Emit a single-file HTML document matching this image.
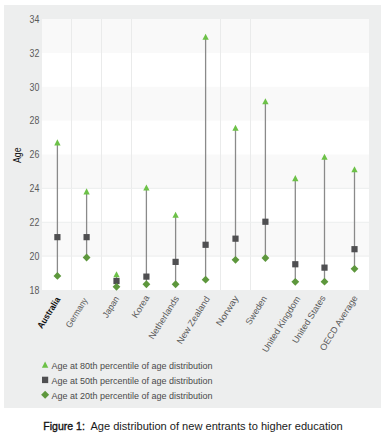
<!DOCTYPE html><html><head><meta charset="utf-8"><style>
html,body{margin:0;padding:0;background:#fff;width:385px;height:439px;overflow:hidden}
svg{display:block}
text{font-family:"Liberation Sans",sans-serif}
</style></head><body>
<svg width="385" height="439" viewBox="0 0 385 439">
<rect x="0" y="0" width="385" height="439" fill="#fff"/>
<rect x="4" y="5" width="377" height="403" fill="#edeeee"/>
<rect x="42" y="19" width="327" height="271" fill="#fff"/>
<rect x="42" y="19.00" width="327" height="33.88" fill="#f9f9f9"/>
<rect x="42" y="86.75" width="327" height="33.88" fill="#f9f9f9"/>
<rect x="42" y="154.50" width="327" height="33.88" fill="#f9f9f9"/>
<rect x="42" y="222.25" width="327" height="33.88" fill="#f9f9f9"/>
<line x1="71.50" y1="19" x2="71.50" y2="290" stroke="#eaebeb" stroke-width="1"/>
<line x1="101.50" y1="19" x2="101.50" y2="290" stroke="#eaebeb" stroke-width="1"/>
<line x1="131.50" y1="19" x2="131.50" y2="290" stroke="#eaebeb" stroke-width="1"/>
<line x1="220.50" y1="19" x2="220.50" y2="290" stroke="#eaebeb" stroke-width="1"/>
<line x1="250.50" y1="19" x2="250.50" y2="290" stroke="#eaebeb" stroke-width="1"/>
<line x1="42" y1="256.12" x2="369" y2="256.12" stroke="#eceeee" stroke-width="1"/>
<line x1="42" y1="222.25" x2="369" y2="222.25" stroke="#eceeee" stroke-width="1"/>
<line x1="42" y1="188.38" x2="369" y2="188.38" stroke="#eceeee" stroke-width="1"/>
<text x="39.4" y="293.75" font-size="10" fill="#5a5a5a" text-anchor="end" textLength="9.8" lengthAdjust="spacingAndGlyphs">18</text>
<text x="39.4" y="259.88" font-size="10" fill="#5a5a5a" text-anchor="end" textLength="9.8" lengthAdjust="spacingAndGlyphs">20</text>
<text x="39.4" y="226.00" font-size="10" fill="#5a5a5a" text-anchor="end" textLength="9.8" lengthAdjust="spacingAndGlyphs">22</text>
<text x="39.4" y="192.12" font-size="10" fill="#5a5a5a" text-anchor="end" textLength="9.8" lengthAdjust="spacingAndGlyphs">24</text>
<text x="39.4" y="158.25" font-size="10" fill="#5a5a5a" text-anchor="end" textLength="9.8" lengthAdjust="spacingAndGlyphs">26</text>
<text x="39.4" y="124.38" font-size="10" fill="#5a5a5a" text-anchor="end" textLength="9.8" lengthAdjust="spacingAndGlyphs">28</text>
<text x="39.4" y="90.50" font-size="10" fill="#5a5a5a" text-anchor="end" textLength="9.8" lengthAdjust="spacingAndGlyphs">30</text>
<text x="39.4" y="56.62" font-size="10" fill="#5a5a5a" text-anchor="end" textLength="9.8" lengthAdjust="spacingAndGlyphs">32</text>
<text x="39.4" y="22.75" font-size="10" fill="#5a5a5a" text-anchor="end" textLength="9.8" lengthAdjust="spacingAndGlyphs">34</text>
<text transform="translate(21.2,163) rotate(-90)" font-size="10.2" fill="#111" textLength="15.6" lengthAdjust="spacingAndGlyphs">Age</text>
<line x1="57.40" y1="142.47" x2="57.40" y2="275.94" stroke="#8a8a8a" stroke-width="1.3"/>
<line x1="86.60" y1="191.42" x2="86.60" y2="257.48" stroke="#8a8a8a" stroke-width="1.3"/>
<line x1="116.50" y1="274.25" x2="116.50" y2="286.78" stroke="#8a8a8a" stroke-width="1.3"/>
<line x1="146.40" y1="187.53" x2="146.40" y2="284.24" stroke="#8a8a8a" stroke-width="1.3"/>
<line x1="175.60" y1="214.80" x2="175.60" y2="284.24" stroke="#8a8a8a" stroke-width="1.3"/>
<line x1="205.60" y1="36.78" x2="205.60" y2="279.67" stroke="#8a8a8a" stroke-width="1.3"/>
<line x1="235.50" y1="127.74" x2="235.50" y2="259.85" stroke="#8a8a8a" stroke-width="1.3"/>
<line x1="265.40" y1="101.32" x2="265.40" y2="257.99" stroke="#8a8a8a" stroke-width="1.3"/>
<line x1="295.30" y1="178.21" x2="295.30" y2="281.87" stroke="#8a8a8a" stroke-width="1.3"/>
<line x1="324.50" y1="156.87" x2="324.50" y2="281.70" stroke="#8a8a8a" stroke-width="1.3"/>
<line x1="354.50" y1="169.24" x2="354.50" y2="268.83" stroke="#8a8a8a" stroke-width="1.3"/>
<path d="M57.40 139.37 L60.55 145.47 L54.25 145.47Z" fill="#6cc147"/>
<rect x="54.30" y="234.05" width="6.2" height="6.2" fill="#4f4f51"/>
<path d="M57.40 272.04 L61.30 275.94 L57.40 279.84 L53.50 275.94Z" fill="#5d973c"/>
<path d="M86.60 188.32 L89.75 194.42 L83.45 194.42Z" fill="#6cc147"/>
<rect x="83.50" y="234.05" width="6.2" height="6.2" fill="#4f4f51"/>
<path d="M86.60 253.58 L90.50 257.48 L86.60 261.38 L82.70 257.48Z" fill="#5d973c"/>
<path d="M116.50 271.15 L119.65 277.25 L113.35 277.25Z" fill="#6cc147"/>
<rect x="113.40" y="277.92" width="6.2" height="6.2" fill="#4f4f51"/>
<path d="M116.50 282.88 L120.40 286.78 L116.50 290.68 L112.60 286.78Z" fill="#5d973c"/>
<path d="M146.40 184.43 L149.55 190.53 L143.25 190.53Z" fill="#6cc147"/>
<rect x="143.30" y="273.52" width="6.2" height="6.2" fill="#4f4f51"/>
<path d="M146.40 280.34 L150.30 284.24 L146.40 288.14 L142.50 284.24Z" fill="#5d973c"/>
<path d="M175.60 211.70 L178.75 217.80 L172.45 217.80Z" fill="#6cc147"/>
<rect x="172.50" y="258.78" width="6.2" height="6.2" fill="#4f4f51"/>
<path d="M175.60 280.34 L179.50 284.24 L175.60 288.14 L171.70 284.24Z" fill="#5d973c"/>
<path d="M205.60 33.68 L208.75 39.78 L202.45 39.78Z" fill="#6cc147"/>
<rect x="202.50" y="241.68" width="6.2" height="6.2" fill="#4f4f51"/>
<path d="M205.60 275.77 L209.50 279.67 L205.60 283.57 L201.70 279.67Z" fill="#5d973c"/>
<path d="M235.50 124.64 L238.65 130.74 L232.35 130.74Z" fill="#6cc147"/>
<rect x="232.40" y="235.58" width="6.2" height="6.2" fill="#4f4f51"/>
<path d="M235.50 255.95 L239.40 259.85 L235.50 263.75 L231.60 259.85Z" fill="#5d973c"/>
<path d="M265.40 98.22 L268.55 104.32 L262.25 104.32Z" fill="#6cc147"/>
<rect x="262.30" y="218.64" width="6.2" height="6.2" fill="#4f4f51"/>
<path d="M265.40 254.09 L269.30 257.99 L265.40 261.89 L261.50 257.99Z" fill="#5d973c"/>
<path d="M295.30 175.11 L298.45 181.21 L292.15 181.21Z" fill="#6cc147"/>
<rect x="292.20" y="261.15" width="6.2" height="6.2" fill="#4f4f51"/>
<path d="M295.30 277.97 L299.20 281.87 L295.30 285.77 L291.40 281.87Z" fill="#5d973c"/>
<path d="M324.50 153.77 L327.65 159.87 L321.35 159.87Z" fill="#6cc147"/>
<rect x="321.40" y="264.54" width="6.2" height="6.2" fill="#4f4f51"/>
<path d="M324.50 277.80 L328.40 281.70 L324.50 285.60 L320.60 281.70Z" fill="#5d973c"/>
<path d="M354.50 166.14 L357.65 172.24 L351.35 172.24Z" fill="#6cc147"/>
<rect x="351.40" y="246.08" width="6.2" height="6.2" fill="#4f4f51"/>
<path d="M354.50 264.93 L358.40 268.83 L354.50 272.73 L350.60 268.83Z" fill="#5d973c"/>
<text class="xl" transform="translate(60.66,299.40) rotate(-58.0)" font-size="9.0" font-weight="bold" fill="#111" text-anchor="end" textLength="35.12" lengthAdjust="spacingAndGlyphs">Australia</text>
<text class="xl" transform="translate(87.99,300.20) rotate(-58.0)" font-size="9.0" font-weight="normal" fill="#5a5a5a" text-anchor="end" textLength="33.24" lengthAdjust="spacingAndGlyphs">Germany</text>
<text class="xl" transform="translate(119.64,298.60) rotate(-58.0)" font-size="9.0" font-weight="normal" fill="#5a5a5a" text-anchor="end" textLength="23.40" lengthAdjust="spacingAndGlyphs">Japan</text>
<text class="xl" transform="translate(149.85,297.64) rotate(-58.0)" font-size="9.0" font-weight="normal" fill="#5a5a5a" text-anchor="end" textLength="24.97" lengthAdjust="spacingAndGlyphs">Korea</text>
<text class="xl" transform="translate(179.41,298.28) rotate(-58.0)" font-size="9.0" font-weight="normal" fill="#5a5a5a" text-anchor="end" textLength="49.29" lengthAdjust="spacingAndGlyphs">Netherlands</text>
<text class="xl" transform="translate(210.10,298.76) rotate(-58.0)" font-size="9.0" font-weight="normal" fill="#5a5a5a" text-anchor="end" textLength="54.16" lengthAdjust="spacingAndGlyphs">New Zealand</text>
<text class="xl" transform="translate(238.87,297.96) rotate(-58.0)" font-size="9.0" font-weight="normal" fill="#5a5a5a" text-anchor="end" textLength="34.10" lengthAdjust="spacingAndGlyphs">Norway</text>
<text class="xl" transform="translate(267.31,298.28) rotate(-58.0)" font-size="9.0" font-weight="normal" fill="#5a5a5a" text-anchor="end" textLength="31.97" lengthAdjust="spacingAndGlyphs">Sweden</text>
<text class="xl" transform="translate(300.72,298.76) rotate(-58.0)" font-size="9.0" font-weight="normal" fill="#5a5a5a" text-anchor="end" textLength="63.86" lengthAdjust="spacingAndGlyphs">United Kingdom</text>
<text class="xl" transform="translate(325.81,297.96) rotate(-58.0)" font-size="9.0" font-weight="normal" fill="#5a5a5a" text-anchor="end" textLength="54.22" lengthAdjust="spacingAndGlyphs">United States</text>
<text class="xl" transform="translate(357.94,297.80) rotate(-58.0)" font-size="9.0" font-weight="normal" fill="#5a5a5a" text-anchor="end" textLength="63.26" lengthAdjust="spacingAndGlyphs">OECD Average</text>
<path d="M45.10 361.50 L48.30 367.80 L41.90 367.80Z" fill="#6cc147"/>
<text x="51.5" y="368.60" font-size="9" fill="#4a4a4a">Age at 80th percentile of age distribution</text>
<rect x="42.00" y="376.70" width="6.2" height="6.4" fill="#4f4f51"/>
<text x="51.5" y="383.60" font-size="9" fill="#4a4a4a">Age at 50th percentile of age distribution</text>
<path d="M45.10 390.80 L49.10 394.80 L45.10 398.80 L41.10 394.80Z" fill="#5d973c"/>
<text x="51.5" y="398.60" font-size="9" fill="#4a4a4a">Age at 20th percentile of age distribution</text>
<text x="43.3" y="430.3" font-size="11.2" fill="#111" stroke="#111" stroke-width="0.35" textLength="41.6" lengthAdjust="spacingAndGlyphs">Figure 1:</text>
<text x="90.4" y="430.3" font-size="11.2" fill="#1a1a1a" textLength="252.4" lengthAdjust="spacingAndGlyphs">Age distribution of new entrants to higher education</text>
</svg></body></html>
